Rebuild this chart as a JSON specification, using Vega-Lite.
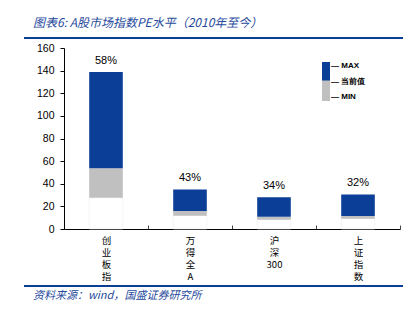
{
  "$schema": "https://vega.github.io/schema/vega-lite/v6.json",
  "padding": {"left": 24, "top": 17, "right": 2, "bottom": 2},
  "background": "white",
  "config": {"view": {"stroke": null}, "font": "Liberation Sans", "legend": {"gradientVerticalMinLength": 20, "gradientVerticalMaxLength": 300}},
  "spacing": 4,
  "resolve": {"legend": {"color": "independent"}},
  "vconcat": [
    {
      "width": 379,
      "height": 2,
      "view": {"fill": "#0b3f97", "stroke": null},
      "title": {"text": "图表6: A股市场指数PE水平（2010年至今）", "anchor": "start", "dx": 9, "offset": 7, "font": "Noto Sans CJK SC", "fontSize": 12, "fontStyle": "italic", "fontWeight": "normal", "color": "#1f4a9c"},
      "data": {"values": []},
      "mark": "rect",
      "encoding": {}
    },
    {
      "width": 376,
      "height": 181,
      "data": {"values": [
        {"name": "创业板指", "min": 27.6, "cur": 53.6, "max": 138.8, "pct": "58%"},
        {"name": "万得全A", "min": 11.8, "cur": 15.9, "max": 35.0, "pct": "43%"},
        {"name": "沪深300", "min": 8.2, "cur": 10.9, "max": 28.0, "pct": "34%"},
        {"name": "上证指数", "min": 9.1, "cur": 11.5, "max": 30.6, "pct": "32%"}
      ]},
      "encoding": {
        "x": {"field": "name", "type": "nominal", "sort": null,
          "scale": {"paddingInner": 0, "paddingOuter": 0, "range": [40, 376]},
          "axis": {"title": null, "labelAngle": 0, "labelExpr": "datum.label == '沪深300' ? ['沪', '深', '300'] : split(datum.label, '')", "tickBand": "extent", "tickSize": -4, "labelPadding": 10, "labelBaseline": "top", "labelLineHeight": 12, "labelFont": "Noto Sans CJK SC", "labelFontSize": 9.5, "labelColor": "black", "domainColor": "black", "tickColor": "#444", "labelOverlap": false}
        }
      },
      "layer": [
        {
          "mark": {"type": "bar", "width": {"band": 0.4}, "color": "white", "stroke": "#ececec", "strokeWidth": 0.6},
          "encoding": {
            "y": {"field": "min", "type": "quantitative", "scale": {"domain": [0, 160]},
              "axis": {"title": null, "offset": -40, "values": [0, 20, 40, 60, 80, 100, 120, 140, 160], "grid": false, "tickSize": 4, "labelPadding": 6, "labelFontSize": 10.5, "labelColor": "black", "domainColor": "black", "tickColor": "black", "minExtent": 0, "labelOverlap": false}},
            "y2": {"datum": 0}
          }
        },
        {
          "mark": {"type": "bar", "width": {"band": 0.4}},
          "encoding": {
            "y": {"field": "min", "type": "quantitative",
              "axis": {"title": null, "offset": -40, "values": [0, 20, 40, 60, 80, 100, 120, 140, 160], "grid": false, "tickSize": 4, "labelPadding": 6, "labelFontSize": 10.5, "labelColor": "black", "domainColor": "black", "tickColor": "black", "minExtent": 0, "labelOverlap": false}},
            "y2": {"field": "cur"},
            "color": {"datum": 0.5, "type": "quantitative",
              "scale": {"type": "linear", "domain": [0, 1, 1.0001, 2], "range": ["#c0c0c0", "#c0c0c0", "#0b3f97", "#0b3f97"]},
              "legend": {"orient": "none", "legendX": 298, "legendY": 14, "title": null, "padding": 0, "values": [0, 1, 2], "gradientLength": 39, "gradientThickness": 8, "gradientStrokeWidth": 0, "direction": "vertical", "labelOverlap": false, "labelExpr": "datum.value >= 1.5 ? '—  MAX' : datum.value >= 0.5 ? '—  当前值' : '—  MIN'", "labelOffset": 1, "labelFontSize": 8, "labelFontWeight": "bold", "labelColor": "black"}
            }
          }
        },
        {
          "mark": {"type": "bar", "width": {"band": 0.4}},
          "encoding": {
            "y": {"field": "cur", "type": "quantitative",
              "axis": {"title": null, "offset": -40, "values": [0, 20, 40, 60, 80, 100, 120, 140, 160], "grid": false, "tickSize": 4, "labelPadding": 6, "labelFontSize": 10.5, "labelColor": "black", "domainColor": "black", "tickColor": "black", "minExtent": 0, "labelOverlap": false}},
            "y2": {"field": "max"},
            "color": {"datum": 1.5, "type": "quantitative"}
          }
        },
        {
          "mark": {"type": "text", "baseline": "bottom", "dy": -6, "fontSize": 11, "color": "black"},
          "encoding": {
            "y": {"field": "max", "type": "quantitative",
              "axis": {"title": null, "offset": -40, "values": [0, 20, 40, 60, 80, 100, 120, 140, 160], "grid": false, "tickSize": 4, "labelPadding": 6, "labelFontSize": 10.5, "labelColor": "black", "domainColor": "black", "tickColor": "black", "minExtent": 0, "labelOverlap": false}},
            "text": {"field": "pct"}
          }
        }
      ]
    },
    {
      "width": 379,
      "height": 2,
      "view": {"fill": "#0b3f97", "stroke": null},
      "title": {"text": "资料来源：wind，国盛证券研究所", "orient": "bottom", "anchor": "start", "dx": 9, "offset": 3, "font": "Noto Sans CJK SC", "fontSize": 11, "fontStyle": "italic", "fontWeight": "normal", "color": "#1f4a9c"},
      "data": {"values": []},
      "mark": "rect",
      "encoding": {}
    }
  ]
}
